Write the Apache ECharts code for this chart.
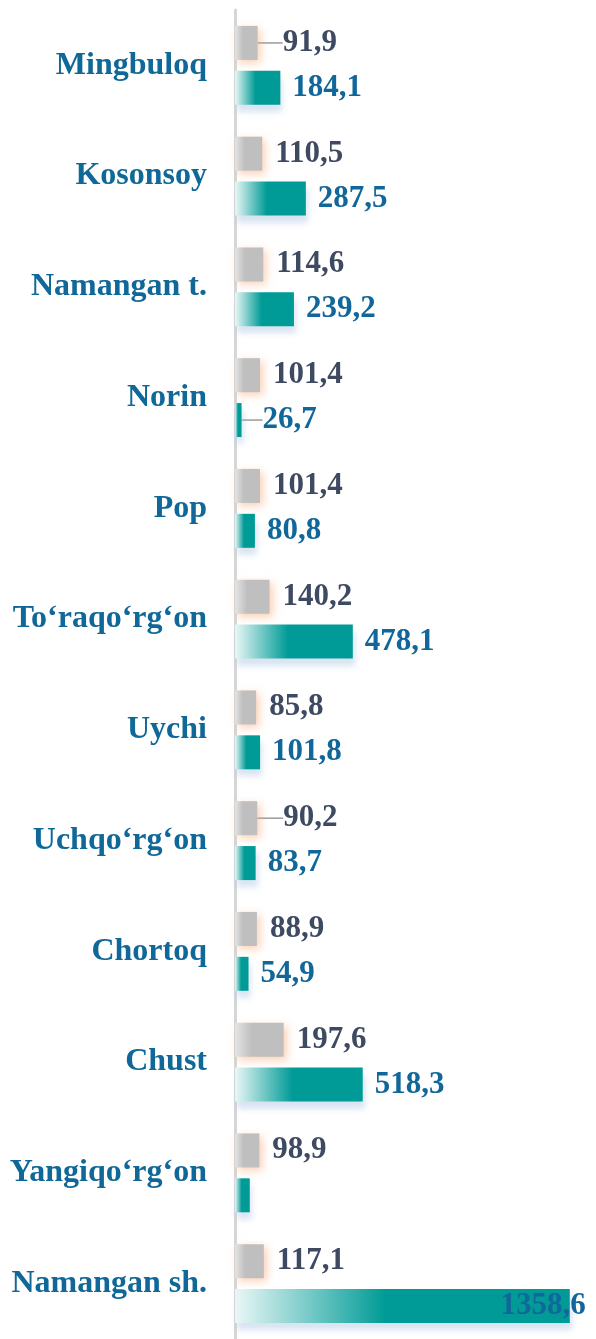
<!DOCTYPE html>
<html>
<head>
<meta charset="utf-8">
<script src="https://cdn.jsdelivr.net/npm/echarts@6/dist/echarts.min.js"></script>
<style>
html,body{margin:0;padding:0;background:#fff;}
#chart{width:596px;height:1339px;}
</style>
</head>
<body>
<div id="chart"></div>
<script>
const categories = ["Mingbuloq","Kosonsoy","Namangan t.","Norin","Pop","To‘raqo‘rg‘on","Uychi","Uchqo‘rg‘on","Chortoq","Chust","Yangiqo‘rg‘on","Namangan sh."];
const grayValues = [91.9,110.5,114.6,101.4,101.4,140.2,85.8,90.2,88.9,197.6,98.9,117.1];
const tealValues = [184.1,287.5,239.2,26.7,80.8,478.1,101.8,83.7,54.9,518.3,60,1358.6];
const tealLabelShown = [true,true,true,true,true,true,true,true,true,true,false,true];

const fmt = v => String(v.toFixed(1)).replace('.', ',');
const serif = '"Liberation Serif","Times New Roman",serif';

const chart = echarts.init(document.getElementById('chart'), null, {renderer:'canvas'});

const grayColor = new echarts.graphic.LinearGradient(0,0,1,0,[
  {offset:0,color:'#e4e4e4'},{offset:0.35,color:'#bfbfbf'},{offset:1,color:'#bfbfbf'}]);
const tealColor = new echarts.graphic.LinearGradient(0,0,1,0,[
  {offset:0,color:'#e9f7f6'},{offset:0.45,color:'#009b96'},{offset:1,color:'#009b96'}]);

const leaderLine = {show:true,lineStyle:{color:'#9a9a9a',width:1.5}};
const grayLeader = {0:12, 7:13};
const tealLeader = {3:9};

const grayData = grayValues.map((v,i)=>{
  const item = {value:v};
  if(grayLeader[i]) item.labelLine = leaderLine;
  return item;
});
const tealData = tealValues.map((v,i)=>{
  const item = {value:v};
  if(!tealLabelShown[i]) item.label = {show:false};
  else if(v > 1000) item.label = {position:'insideRight'};
  if(tealLeader[i]) item.labelLine = leaderLine;
  return item;
});

chart.setOption({
  animation:false,
  grid:{left:235,right:16,top:10,height:1337,containLabel:false},
  xAxis:{type:'value',min:0,max:1400,show:false,splitLine:{show:false}},
  yAxis:{type:'category',data:categories,inverse:true,
    axisLine:{show:true,lineStyle:{color:'#d6d6d6',width:3}},
    axisTick:{show:false},
    axisLabel:{margin:28,fontFamily:serif,fontWeight:'bold',fontSize:32,color:'#0f6898'}},
  series:[
    {type:'bar',name:'gray',data:grayData,barWidth:34,barGap:'32%',
      itemStyle:{color:grayColor,shadowColor:'rgba(250,170,120,0.55)',shadowBlur:8,shadowOffsetX:3,shadowOffsetY:3},
      label:{show:true,position:'right',distance:13,formatter:p=>fmt(p.value),
        fontFamily:serif,fontWeight:'bold',fontSize:31,color:'#3e4a62'},
      labelLine:{show:false},
      labelLayout:p=>grayLeader[p.dataIndex]?{dx:grayLeader[p.dataIndex]}:undefined},
    {type:'bar',name:'teal',data:tealData,barWidth:34,
      itemStyle:{color:tealColor,shadowColor:'rgba(170,195,225,0.45)',shadowBlur:6,shadowOffsetX:2,shadowOffsetY:7},
      label:{show:true,position:'right',distance:12,formatter:p=>fmt(p.value),
        fontFamily:serif,fontWeight:'bold',fontSize:31,color:'#11679a'},
      labelLine:{show:false},
      labelLayout:p=>{
        if(tealLeader[p.dataIndex]) return {dx:tealLeader[p.dataIndex]};
        if(tealValues[p.dataIndex] > 1000) return {dx:28};
        return undefined;
      }}
  ]
});
</script>
</body>
</html>
